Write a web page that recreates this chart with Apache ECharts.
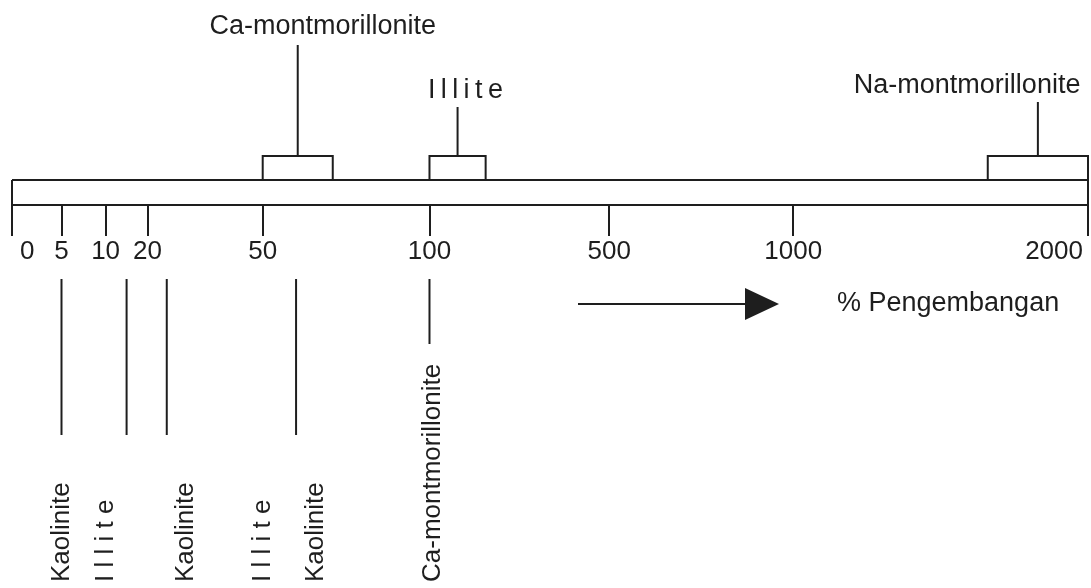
<!DOCTYPE html>
<html>

<head>
    <meta charset="UTF-8">
    <title>Pengembangan mineral lempung</title>
    <script src="https://cdn.jsdelivr.net/npm/echarts@6/dist/echarts.min.js"></script>
    <style>
        html, body { margin: 0; padding: 0; background: #fff; }
    </style>
</head>

<body>
    <div id="chart" style="width: 1091px; height: 588px;"></div>
    <script>
        // scale: labelled swell values and where each one sits along the drawn bar (% of bar length)
        var tickValues = [0, 5, 10, 20, 50, 100, 500, 1000, 2000];
        var tickPos = [0, 4.6, 8.7, 12.6, 23.3, 38.8, 55.5, 72.6, 100];

        // ranges drawn above the bar (% swell)
        var upperNames = ['Ca-montmorillonite', 'I\u2009l\u2009l\u2009i\u2009t\u2009e', 'Na-montmorillonite'];
        var upperFrom = [50, 100, 1660];
        var upperTo = [71, 225, 2000];
        var upperLabelAt = [68, 180, 1590];

        // single values drawn below the bar (% swell)
        var lowerLineValues = [5, 15, 25, 60, 100];
        var lowerNames = ['Kaolinite', 'I l l i t e', 'Kaolinite', 'I l l i t e', 'Kaolinite', 'Ca-montmorillonite'];
        var lowerLabelAt = [5, 10, 30, 50, 66, 107];

        // layout (pixels relative to the lower edge of the bar)
        var BAR_TOP = -25;
        var BOX_TOP = -49;
        var stemTop = [-160, -98, -103];
        var upperTextY = [-178, -114, -119];
        var lowerLineTop = 74;
        var lowerLineBottom = [230, 230, 230, 230, 139];
        var lowerTextBottom = 377;

        var INK = '#1e1e1e';
        var FONT = 'Liberation Sans, Arial, sans-serif';

        // piecewise mapping from % swell to position along the bar
        function toPos(v) {
            for (var i = 0; i < tickValues.length - 1; i++) {
                if (v <= tickValues[i + 1]) {
                    var t = (v - tickValues[i]) / (tickValues[i + 1] - tickValues[i]);
                    return tickPos[i] + t * (tickPos[i + 1] - tickPos[i]);
                }
            }
            return tickPos[tickPos.length - 1];
        }

        var upperData = upperNames.map(function (n, i) {
            return [toPos(upperFrom[i]), toPos(upperTo[i]), toPos(upperLabelAt[i])];
        });
        var lowerLineData = lowerLineValues.map(function (v) { return [toPos(v), 0]; });
        var lowerLabelData = lowerLabelAt.map(function (v) { return [toPos(v), 0]; });

        var lineStyle = { stroke: INK, lineWidth: 2 };

        var chart = echarts.init(document.getElementById('chart'), null, { renderer: 'canvas' });

        chart.setOption({
            backgroundColor: '#ffffff',
            animation: false,
            // grid ends at the lower edge of the bar, the x axis is drawn there
            grid: { left: 12, right: 3, top: 0, bottom: 383, containLabel: false, outerBoundsMode: 'none' },
            xAxis: {
                type: 'value',
                min: 0,
                max: 100,
                splitLine: { show: false },
                axisLine: { show: true, onZero: false, lineStyle: { color: INK, width: 2 } },
                axisTick: {
                    show: true,
                    customValues: tickPos,
                    length: 31,
                    lineStyle: { color: INK, width: 2 }
                },
                axisLabel: {
                    show: true,
                    customValues: tickPos,
                    margin: 34,
                    color: INK,
                    fontSize: 26,
                    fontFamily: FONT,
                    alignMinLabel: 'left',
                    alignMaxLabel: 'right',
                    formatter: function (value) {
                        var i = tickPos.indexOf(value);
                        if (i === 0) return '{first|' + tickValues[i] + '}';
                        if (i === tickPos.length - 1) return '{last|' + tickValues[i] + '}';
                        return String(tickValues[i]);
                    },
                    rich: {
                        first: { padding: [0, 0, 0, 8], color: INK, fontSize: 26, fontFamily: FONT },
                        last: { padding: [0, 5, 0, 0], color: INK, fontSize: 26, fontFamily: FONT }
                    }
                }
            },
            yAxis: {
                type: 'value',
                inverse: true,
                min: -205,
                max: 0,
                show: false
            },
            graphic: [
                {
                    type: 'line',
                    shape: { x1: 578, y1: 304, x2: 750, y2: 304 },
                    style: { stroke: INK, lineWidth: 2 }
                },
                {
                    type: 'polygon',
                    shape: { points: [[745, 288], [779, 304], [745, 320]] },
                    style: { fill: INK }
                },
                {
                    type: 'text',
                    left: 837,
                    top: 290,
                    style: { text: '% Pengembangan', fill: INK, font: '27px ' + FONT }
                }
            ],
            series: [
                {
                    // top edge of the bar and its two end pieces
                    type: 'custom',
                    clip: false,
                    data: [[0, 0]],
                    renderItem: function (params, api) {
                        var l = api.coord([0, BAR_TOP]);
                        var r = api.coord([100, BAR_TOP]);
                        var b = api.coord([0, 0]);
                        var rb = api.coord([100, 0]);
                        var rt = api.coord([100, BOX_TOP]);
                        return {
                            type: 'group',
                            children: [
                                { type: 'line', shape: { x1: l[0], y1: l[1], x2: r[0], y2: r[1] }, style: lineStyle },
                                { type: 'line', shape: { x1: l[0], y1: l[1], x2: b[0], y2: b[1] }, style: lineStyle },
                                { type: 'line', shape: { x1: rt[0], y1: rt[1], x2: rb[0], y2: rb[1] }, style: lineStyle }
                            ]
                        };
                    }
                },
                {
                    // ranges above the bar
                    type: 'custom',
                    clip: false,
                    data: upperData,
                    renderItem: function (params, api) {
                        var i = params.dataIndex;
                        var x0 = api.coord([api.value(0), 0])[0];
                        var x1 = api.coord([api.value(1), 0])[0];
                        var xl = api.coord([api.value(2), 0])[0];
                        var yBar = api.coord([0, BAR_TOP])[1];
                        var yBox = api.coord([0, BOX_TOP])[1];
                        var yStem = api.coord([0, stemTop[i]])[1];
                        var yText = api.coord([0, upperTextY[i]])[1];
                        var xc = (x0 + x1) / 2;
                        return {
                            type: 'group',
                            children: [
                                {
                                    type: 'polyline',
                                    shape: { points: [[x0, yBar], [x0, yBox], [x1, yBox], [x1, yBar]] },
                                    style: { stroke: INK, lineWidth: 2, fill: null }
                                },
                                { type: 'line', shape: { x1: xc, y1: yBox, x2: xc, y2: yStem }, style: lineStyle },
                                {
                                    type: 'text',
                                    x: xl,
                                    y: yText,
                                    style: {
                                        text: upperNames[i], fill: INK, font: '27px ' + FONT,
                                        align: 'center', verticalAlign: 'middle'
                                    }
                                }
                            ]
                        };
                    }
                },
                {
                    // value lines below the bar
                    type: 'custom',
                    clip: false,
                    data: lowerLineData,
                    renderItem: function (params, api) {
                        var i = params.dataIndex;
                        var p0 = api.coord([api.value(0), lowerLineTop]);
                        var p1 = api.coord([api.value(0), lowerLineBottom[i]]);
                        return { type: 'line', shape: { x1: p0[0], y1: p0[1], x2: p1[0], y2: p1[1] }, style: lineStyle };
                    }
                },
                {
                    // mineral names below, written upwards
                    type: 'custom',
                    clip: false,
                    data: lowerLabelData,
                    renderItem: function (params, api) {
                        var i = params.dataIndex;
                        var p = api.coord([api.value(0), lowerTextBottom]);
                        return {
                            type: 'text',
                            x: p[0],
                            y: p[1],
                            rotation: Math.PI / 2,
                            style: {
                                text: lowerNames[i], fill: INK, font: '26px ' + FONT,
                                align: 'left', verticalAlign: 'middle'
                            }
                        };
                    }
                }
            ]
        });
    </script>

</body>

</html>
